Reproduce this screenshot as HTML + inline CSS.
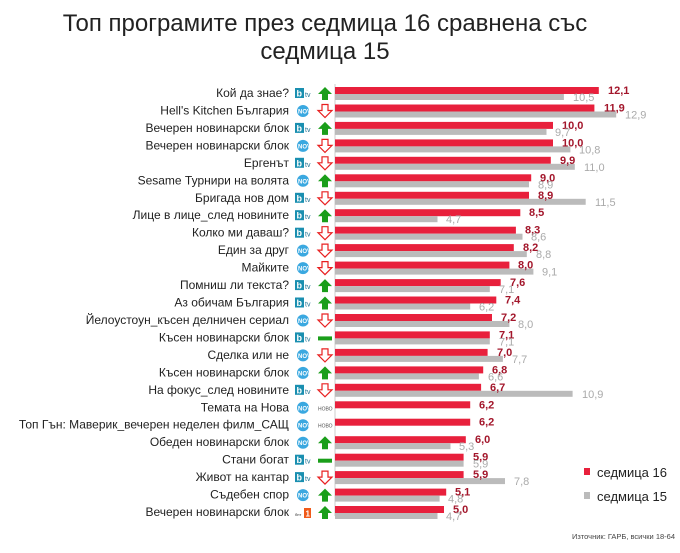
<!DOCTYPE html>
<html><head><meta charset="utf-8"><style>
body{margin:0;background:#fff}
svg{display:block;font-family:"Liberation Sans",sans-serif}
.l{font-size:12px;fill:#222;text-anchor:end}
.r{font-size:11px;font-weight:bold;fill:#a3162b}
.g{font-size:11px;fill:#aaa}
</style></head><body>
<svg width="680" height="553" viewBox="0 0 680 553">
<defs>
<g id="btv"><rect x="0" y="1" width="9" height="10" fill="#1a8fb0"/><text x="1.5" y="9.5" font-size="9" font-weight="bold" fill="#fff">b</text><text x="10" y="10" font-size="7" fill="#1a6f90">tv</text></g>
<g id="nova"><circle cx="8" cy="6.5" r="6" fill="#3aa8e0"/><text x="3" y="9" font-size="6" font-weight="bold" fill="#fff">NOVA</text></g>
<g id="up"><polygon points="7,0 14,7 10,7 10,13 4,13 4,7 0,7" fill="#1a9e1a"/></g>
<g id="dn"><polygon points="4,0 10,0 10,6 14,6 7,13 0,6 4,6" fill="#fff" stroke="#e82020" stroke-width="1.2"/></g>
<g id="fl"><rect x="0" y="5" width="14" height="4" fill="#1a9e1a"/></g>
<g id="nv"><text x="0" y="9" font-size="5" fill="#555">НОВО</text></g>
</defs>
<text x="325" y="31" font-size="24" text-anchor="middle" fill="#222">Топ програмите през седмица 16 сравнена със</text>
<text x="325" y="59" font-size="24" text-anchor="middle" fill="#222">седмица 15</text>
<line x1="335" y1="84" x2="335" y2="516" stroke="#ccc"/>

<g transform="translate(0,87)"><text class="l" x="289" y="10">Кой да знае?</text><use href="#btv" x="295"/><use href="#up" x="318"/><rect x="335" y="0" width="263.8" height="7" fill="#e8203c"/><rect x="335" y="7" width="228.9" height="6" fill="#bbb"/><text class="r" x="608" y="7">12,1</text><text class="g" x="573" y="14">10,5</text></g>
<g transform="translate(0,104.5)"><text class="l" x="289" y="10">Hell's Kitchen България</text><use href="#nova" x="295"/><use href="#dn" x="318"/><rect x="335" y="0" width="259.4" height="7" fill="#e8203c"/><rect x="335" y="7" width="281.2" height="6" fill="#bbb"/><text class="r" x="604" y="7">11,9</text><text class="g" x="625" y="14">12,9</text></g>
<g transform="translate(0,121.9)"><text class="l" x="289" y="10">Вечерен новинарски блок</text><use href="#btv" x="295"/><use href="#up" x="318"/><rect x="335" y="0" width="218" height="7" fill="#e8203c"/><rect x="335" y="7" width="211.5" height="6" fill="#bbb"/><text class="r" x="562" y="7">10,0</text><text class="g" x="555" y="14">9,7</text></g>
<g transform="translate(0,139.4)"><text class="l" x="289" y="10">Вечерен новинарски блок</text><use href="#nova" x="295"/><use href="#dn" x="318"/><rect x="335" y="0" width="218" height="7" fill="#e8203c"/><rect x="335" y="7" width="235.4" height="6" fill="#bbb"/><text class="r" x="562" y="7">10,0</text><text class="g" x="579" y="14">10,8</text></g>
<g transform="translate(0,156.8)"><text class="l" x="289" y="10">Ергенът</text><use href="#btv" x="295"/><use href="#dn" x="318"/><rect x="335" y="0" width="215.8" height="7" fill="#e8203c"/><rect x="335" y="7" width="239.8" height="6" fill="#bbb"/><text class="r" x="560" y="7">9,9</text><text class="g" x="584" y="14">11,0</text></g>
<g transform="translate(0,174.3)"><text class="l" x="289" y="10">Sesame Турнири на волята</text><use href="#nova" x="295"/><use href="#up" x="318"/><rect x="335" y="0" width="196.2" height="7" fill="#e8203c"/><rect x="335" y="7" width="194" height="6" fill="#bbb"/><text class="r" x="540" y="7">9,0</text><text class="g" x="538" y="14">8,9</text></g>
<g transform="translate(0,191.8)"><text class="l" x="289" y="10">Бригада нов дом</text><use href="#btv" x="295"/><use href="#dn" x="318"/><rect x="335" y="0" width="194" height="7" fill="#e8203c"/><rect x="335" y="7" width="250.7" height="6" fill="#bbb"/><text class="r" x="538" y="7">8,9</text><text class="g" x="595" y="14">11,5</text></g>
<g transform="translate(0,209.2)"><text class="l" x="289" y="10">Лице в лице_след новините</text><use href="#btv" x="295"/><use href="#up" x="318"/><rect x="335" y="0" width="185.3" height="7" fill="#e8203c"/><rect x="335" y="7" width="102.5" height="6" fill="#bbb"/><text class="r" x="529" y="7">8,5</text><text class="g" x="446" y="14">4,7</text></g>
<g transform="translate(0,226.7)"><text class="l" x="289" y="10">Колко ми даваш?</text><use href="#btv" x="295"/><use href="#dn" x="318"/><rect x="335" y="0" width="180.9" height="7" fill="#e8203c"/><rect x="335" y="7" width="187.5" height="6" fill="#bbb"/><text class="r" x="525" y="7">8,3</text><text class="g" x="531" y="14">8,6</text></g>
<g transform="translate(0,244.1)"><text class="l" x="289" y="10">Един за друг</text><use href="#nova" x="295"/><use href="#dn" x="318"/><rect x="335" y="0" width="178.8" height="7" fill="#e8203c"/><rect x="335" y="7" width="191.8" height="6" fill="#bbb"/><text class="r" x="523" y="7">8,2</text><text class="g" x="536" y="14">8,8</text></g>
<g transform="translate(0,261.6)"><text class="l" x="289" y="10">Майките</text><use href="#nova" x="295"/><use href="#dn" x="318"/><rect x="335" y="0" width="174.4" height="7" fill="#e8203c"/><rect x="335" y="7" width="198.4" height="6" fill="#bbb"/><text class="r" x="518" y="7">8,0</text><text class="g" x="542" y="14">9,1</text></g>
<g transform="translate(0,279.1)"><text class="l" x="289" y="10">Помниш ли текста?</text><use href="#btv" x="295"/><use href="#up" x="318"/><rect x="335" y="0" width="165.7" height="7" fill="#e8203c"/><rect x="335" y="7" width="154.8" height="6" fill="#bbb"/><text class="r" x="510" y="7">7,6</text><text class="g" x="499" y="14">7,1</text></g>
<g transform="translate(0,296.5)"><text class="l" x="289" y="10">Аз обичам България</text><use href="#btv" x="295"/><use href="#up" x="318"/><rect x="335" y="0" width="161.3" height="7" fill="#e8203c"/><rect x="335" y="7" width="135.2" height="6" fill="#bbb"/><text class="r" x="505" y="7">7,4</text><text class="g" x="479" y="14">6,2</text></g>
<g transform="translate(0,314)"><text class="l" x="289" y="10">Йелоустоун_късен делничен сериал</text><use href="#nova" x="295"/><use href="#dn" x="318"/><rect x="335" y="0" width="157" height="7" fill="#e8203c"/><rect x="335" y="7" width="174.4" height="6" fill="#bbb"/><text class="r" x="501" y="7">7,2</text><text class="g" x="518" y="14">8,0</text></g>
<g transform="translate(0,331.4)"><text class="l" x="289" y="10">Късен новинарски блок</text><use href="#btv" x="295"/><use href="#fl" x="318"/><rect x="335" y="0" width="154.8" height="7" fill="#e8203c"/><rect x="335" y="7" width="154.8" height="6" fill="#bbb"/><text class="r" x="499" y="7">7,1</text><text class="g" x="499" y="14">7,1</text></g>
<g transform="translate(0,348.9)"><text class="l" x="289" y="10">Сделка или не</text><use href="#nova" x="295"/><use href="#dn" x="318"/><rect x="335" y="0" width="152.6" height="7" fill="#e8203c"/><rect x="335" y="7" width="167.9" height="6" fill="#bbb"/><text class="r" x="497" y="7">7,0</text><text class="g" x="512" y="14">7,7</text></g>
<g transform="translate(0,366.4)"><text class="l" x="289" y="10">Късен новинарски блок</text><use href="#nova" x="295"/><use href="#up" x="318"/><rect x="335" y="0" width="148.2" height="7" fill="#e8203c"/><rect x="335" y="7" width="143.9" height="6" fill="#bbb"/><text class="r" x="492" y="7">6,8</text><text class="g" x="488" y="14">6,6</text></g>
<g transform="translate(0,383.8)"><text class="l" x="289" y="10">На фокус_след новините</text><use href="#btv" x="295"/><use href="#dn" x="318"/><rect x="335" y="0" width="146.1" height="7" fill="#e8203c"/><rect x="335" y="7" width="237.6" height="6" fill="#bbb"/><text class="r" x="490" y="7">6,7</text><text class="g" x="582" y="14">10,9</text></g>
<g transform="translate(0,401.3)"><text class="l" x="289" y="10">Темата на Нова</text><use href="#nova" x="295"/><use href="#nv" x="318"/><rect x="335" y="0" width="135.2" height="7" fill="#e8203c"/><text class="r" x="479" y="7">6,2</text></g>
<g transform="translate(0,418.7)"><text class="l" x="289" y="10">Топ Гън: Маверик_вечерен неделен филм_САЩ</text><use href="#nova" x="295"/><use href="#nv" x="318"/><rect x="335" y="0" width="135.2" height="7" fill="#e8203c"/><text class="r" x="479" y="7">6,2</text></g>
<g transform="translate(0,436.2)"><text class="l" x="289" y="10">Обеден новинарски блок</text><use href="#nova" x="295"/><use href="#up" x="318"/><rect x="335" y="0" width="130.8" height="7" fill="#e8203c"/><rect x="335" y="7" width="115.5" height="6" fill="#bbb"/><text class="r" x="475" y="7">6,0</text><text class="g" x="459" y="14">5,3</text></g>
<g transform="translate(0,453.7)"><text class="l" x="289" y="10">Стани богат</text><use href="#btv" x="295"/><use href="#fl" x="318"/><rect x="335" y="0" width="128.6" height="7" fill="#e8203c"/><rect x="335" y="7" width="128.6" height="6" fill="#bbb"/><text class="r" x="473" y="7">5,9</text><text class="g" x="473" y="14">5,9</text></g>
<g transform="translate(0,471.1)"><text class="l" x="289" y="10">Живот на кантар</text><use href="#btv" x="295"/><use href="#dn" x="318"/><rect x="335" y="0" width="128.6" height="7" fill="#e8203c"/><rect x="335" y="7" width="170" height="6" fill="#bbb"/><text class="r" x="473" y="7">5,9</text><text class="g" x="514" y="14">7,8</text></g>
<g transform="translate(0,488.6)"><text class="l" x="289" y="10">Съдебен спор</text><use href="#nova" x="295"/><use href="#up" x="318"/><rect x="335" y="0" width="111.2" height="7" fill="#e8203c"/><rect x="335" y="7" width="104.6" height="6" fill="#bbb"/><text class="r" x="455" y="7">5,1</text><text class="g" x="448" y="14">4,8</text></g>
<g transform="translate(0,506)"><text class="l" x="289" y="10">Вечерен новинарски блок</text><text x="295" y="10" font-size="4" fill="#333">бнт</text><rect x="304" y="2" width="7" height="10" fill="#f05a1a"/><text x="305.5" y="10.5" font-size="8" font-weight="bold" fill="#fff">1</text><use href="#up" x="318"/><rect x="335" y="0" width="109" height="7" fill="#e8203c"/><rect x="335" y="7" width="102.5" height="6" fill="#bbb"/><text class="r" x="453" y="7">5,0</text><text class="g" x="446" y="14">4,7</text></g>

<rect x="584" y="468" width="6" height="7" fill="#e8203c"/>
<text x="597" y="477" font-size="13" fill="#222">седмица 16</text>
<rect x="584" y="492" width="6" height="7" fill="#bbb"/>
<text x="597" y="501" font-size="13" fill="#222">седмица 15</text>
<text x="675" y="539" font-size="7.5" text-anchor="end" fill="#444">Източник: ГАРБ, всички 18-64</text>
</svg>
</body></html>
